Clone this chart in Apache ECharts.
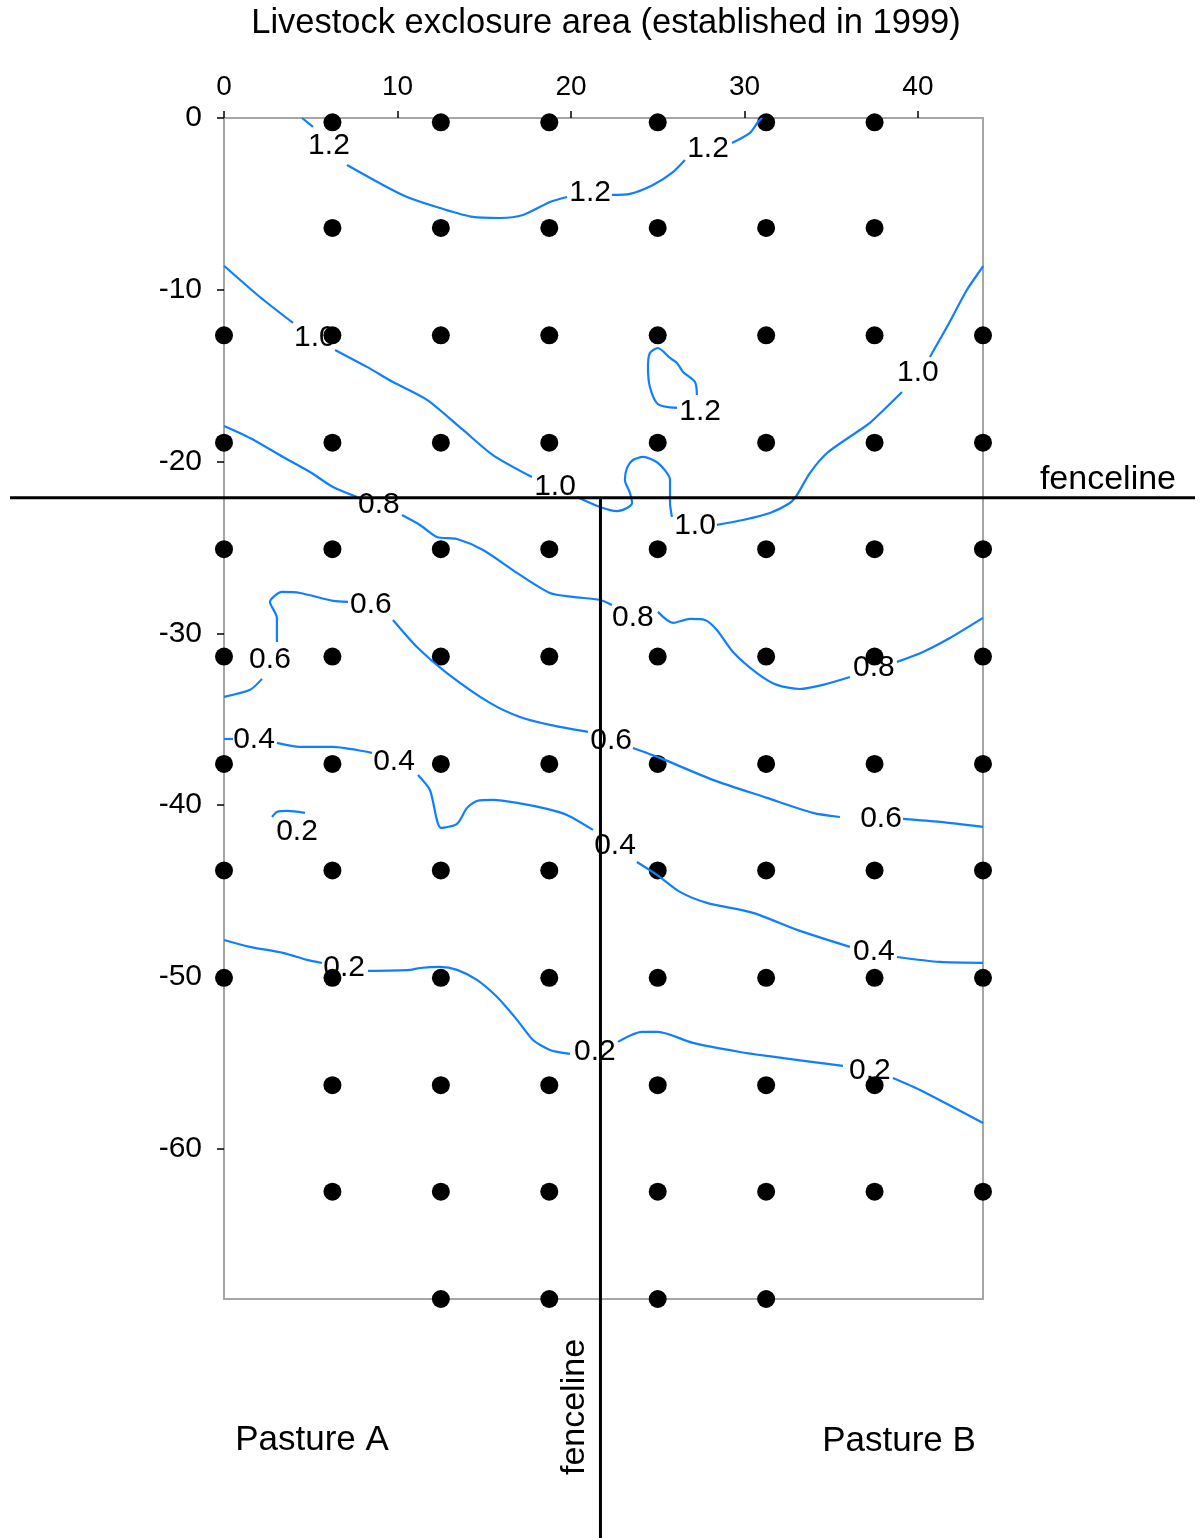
<!DOCTYPE html>
<html><head><meta charset="utf-8">
<script src="https://cdn.jsdelivr.net/npm/echarts@6/dist/echarts.min.js"></script>
<style>html,body{margin:0;padding:0;background:#fff}#c{width:1204px;height:1538px}</style>
</head><body><div id="c"></div>
<script>
const FONT = '"Liberation Sans", Arial, sans-serif';
const BLUE = '#0f7fff';

// axis ranges and tick labels
const xRange = [0, 43.75];
const yRange = [-68.75, 0];
const xTicks = [0, 10, 20, 30, 40];
const yTicks = [0, -10, -20, -30, -40, -50, -60];

// sampling points (rows)
const dotRowY = [-0.25, -6.4, -12.65, -18.9, -25.1, -31.35, -37.6, -43.8, -50.05, -56.3, -62.5, -68.75];
const dotRowX = [
  [6.25, 12.5, 18.75, 25, 31.25, 37.5],
  [6.25, 12.5, 18.75, 25, 31.25, 37.5],
  [0, 6.25, 12.5, 18.75, 25, 31.25, 37.5, 43.75],
  [0, 6.25, 12.5, 18.75, 25, 31.25, 37.5, 43.75],
  [0, 6.25, 12.5, 18.75, 25, 31.25, 37.5, 43.75],
  [0, 6.25, 12.5, 18.75, 25, 31.25, 37.5, 43.75],
  [0, 6.25, 12.5, 18.75, 25, 31.25, 37.5, 43.75],
  [0, 6.25, 12.5, 18.75, 25, 31.25, 37.5, 43.75],
  [0, 6.25, 12.5, 18.75, 25, 31.25, 37.5, 43.75],
  [6.25, 12.5, 18.75, 25, 31.25, 37.5],
  [6.25, 12.5, 18.75, 25, 31.25, 37.5, 43.75],
  [12.5, 18.75, 25, 31.25]
];

// fence positions
const fenceY = -22.1;
const fenceX = 21.7;

// contour segments (broken where labels sit)
const contour12Top = [
  [[4.50,0],[5.13,-0.52]],
  [[7.09,-2.74],[9.16,-3.90],[10.55,-4.60],[12.45,-5.24],[14.35,-5.76],[15.91,-5.82],[17.23,-5.65],[18.79,-4.89],[19.77,-4.60]],
  [[22.36,-4.48],[23.40,-4.42],[24.73,-3.90],[25.82,-3.20],[26.57,-2.44]],
  [[29.28,-1.46],[30.32,-0.87],[30.78,-0.23],[31.01,0]]
];
const contour12Loop = [
  [[27.26,-16.12],[27.15,-15.37],[26.46,-14.78],[26.11,-14.26],[25.71,-13.97],[25.01,-13.39],[24.55,-13.68],[24.44,-14.49],[24.55,-15.66],[25.01,-16.65],[26.11,-16.88]]
];
const contour10 = [
  [[0,-8.6],[2.07,-10.42],[3.98,-11.93]],
  [[6.40,-13.50],[8.24,-14.49],[9.74,-15.37],[11.70,-16.41],[13.78,-18.16],[15.50,-19.62],[17.75,-20.90]],
  [[20.35,-22.06],[21.67,-22.64],[22.65,-22.88],[23.23,-22.70],[23.52,-22.41],[23.40,-21.83],[23.11,-21.07],[23.23,-20.37],[23.57,-19.91],[24.15,-19.73],[25.01,-20.08],[25.71,-21.07],[25.71,-22.41],[25.82,-23.22]],
  [[28.41,-23.69],[29.91,-23.40],[31.47,-22.99],[32.62,-22.41],[33.03,-21.94],[33.78,-20.66],[34.76,-19.50],[36.48,-18.28],[37.23,-17.75],[39.08,-15.95]],
  [[40.69,-13.91],[41.67,-12.17],[42.82,-10.01],[43.69,-8.73],[43.75,-8.61]]
];
const contour08 = [
  [[0,-17.93],[1.50,-18.63],[3.40,-19.73],[4.96,-20.61],[6.28,-21.48],[7.67,-22.06]],
  [[10.26,-23.11],[11.30,-23.69],[12.28,-24.39],[13.43,-24.51],[14.93,-25.15],[16.89,-26.48],[18.79,-27.65],[20.12,-27.88],[21.67,-28.06],[22.36,-28.35]],
  [[25.01,-28.75],[25.88,-29.39],[26.86,-29.16],[27.72,-29.22],[28.41,-29.80],[29.34,-31.08],[30.72,-32.31],[31.87,-33.00],[33.20,-33.24],[34.52,-33.00],[36.08,-32.54]],
  [[38.79,-31.66],[40.29,-31.08],[41.84,-30.27],[43.75,-29.10]]
];
const contour06 = [
  [[0,-33.70],[1.50,-33.29],[2.19,-32.65]],
  [[3.05,-30.50],[3.05,-29.10],[2.65,-28.17],[3.34,-27.59],[4.38,-27.65],[6.28,-28.11],[7.15,-28.17]],
  [[9.74,-29.22],[11.12,-30.79],[12.85,-32.31],[15.33,-34.05],[17.06,-34.87],[18.79,-35.33],[20.98,-35.74]],
  [[23.57,-36.67],[25.13,-37.25],[28.18,-38.53],[31.30,-39.58],[33.95,-40.45],[35.50,-40.69]],
  [[39.14,-40.80],[41.27,-40.98],[43.75,-41.27]]
];
const contour04 = [
  [[0,-36.15],[0.52,-36.15]],
  [[3.05,-36.38],[4.38,-36.61],[6.28,-36.61],[7.67,-36.79],[8.53,-36.96]],
  [[11.18,-38.24],[11.87,-39.12],[12.51,-41.33],[13.43,-41.09],[14.01,-40.16],[14.58,-39.76],[15.50,-39.70],[16.89,-39.87],[18.62,-40.22],[19.77,-40.57],[21.27,-41.44]],
  [[23.80,-43.31],[24.96,-44.06],[26.28,-45.05],[27.84,-45.69],[30.49,-46.27],[33.03,-47.26],[36.08,-48.25]],
  [[38.79,-48.84],[41.27,-49.13],[43.75,-49.18]]
];
const contour02Small = [
  [[2.77,-40.69],[3.05,-40.40],[3.63,-40.34],[4.67,-40.45]]
];
const contour02 = [
  [[0,-47.85],[1.50,-48.25],[3.40,-48.60],[4.78,-49.01],[5.65,-49.19]],
  [[8.30,-49.65],[10.72,-49.59],[11.30,-49.48],[12.45,-49.42],[13.43,-49.59],[14.58,-50.17],[15.73,-51.16],[16.89,-52.50],[17.81,-53.67],[18.79,-54.25],[19.94,-54.48]],
  [[22.71,-53.78],[24.09,-53.20],[25.01,-53.20],[27.03,-53.84],[29.74,-54.37],[31.30,-54.60],[35.68,-55.18]],
  [[38.56,-55.88],[40.12,-56.58],[43.75,-58.50]]
];

// contour labels: [x, y, text]
const contourLabels = [
  [6.05,-1.63,'1.2'],[21.10,-4.37,'1.2'],[27.90,-1.80,'1.2'],[27.44,-17.11,'1.2'],
  [5.24,-12.81,'1.0'],[19.08,-21.48,'1.0'],[27.15,-23.75,'1.0'],[40.00,-14.84,'1.0'],
  [8.93,-22.53,'0.8'],[23.57,-29.10,'0.8'],[37.46,-32.01,'0.8'],
  [2.65,-31.55,'0.6'],[8.47,-28.35,'0.6'],[22.31,-36.26,'0.6'],[37.87,-40.80,'0.6'],
  [1.73,-36.20,'0.4'],[9.80,-37.49,'0.4'],[22.54,-42.37,'0.4'],[37.46,-48.54,'0.4'],
  [4.21,-41.56,'0.2'],[6.92,-49.48,'0.2'],[21.38,-54.37,'0.2'],[37.23,-55.47,'0.2']
];

const chart = echarts.init(document.getElementById('c'), null, {renderer: 'canvas'});

const dots = [];
dotRowY.forEach((y, i) => dotRowX[i].forEach(x => dots.push([x, y])));

const series = [];
series.push({
  type: 'scatter', data: dots, symbol: 'circle', symbolSize: 18,
  itemStyle: {color: '#000', opacity: 1}, z: 2, silent: true
});
[contour12Top, contour12Loop, contour10, contour08, contour06, contour04, contour02Small, contour02].forEach(c => {
  c.forEach(seg => series.push({
    type: 'line', data: seg, symbol: 'none', showSymbol: false, smooth: 0.25,
    lineStyle: {color: BLUE, width: 2.2}, z: 3, silent: true
  }));
});
series.push({
  type: 'scatter', symbolSize: 1, itemStyle: {color: 'rgba(0,0,0,0)'}, z: 6, silent: true,
  data: contourLabels.map(d => ({name: d[2], value: [d[0], d[1]]})),
  label: {show: true, position: 'inside', formatter: '{b}', color: '#000', fontSize: 30, fontFamily: FONT, opacity: 1}
});

const axisCommon = {
  type: 'value',
  axisLine: {show: true, onZero: false, lineStyle: {color: '#a6a6a6', width: 2}},
  splitLine: {show: false},
  axisTick: {show: true, inside: false, length: 7, lineStyle: {color: '#000', width: 1.5}}
};

const textGraphics = [
  {type: 'text', x: 606, y: 23, style: {text: 'Livestock exclosure area (established in 1999)', fontSize: 34.5, fontFamily: FONT, fill: '#000', align: 'center', verticalAlign: 'middle'}},
  {type: 'text', x: 1176, y: 480, style: {text: 'fenceline', fontSize: 34, fontFamily: FONT, fill: '#000', align: 'right', verticalAlign: 'middle'}},
  {type: 'text', x: 575, y: 1407, rotation: Math.PI / 2, style: {text: 'fenceline', fontSize: 34, fontFamily: FONT, fill: '#000', align: 'center', verticalAlign: 'middle'}},
  {type: 'text', x: 312, y: 1440, style: {text: 'Pasture A', fontSize: 35, fontFamily: FONT, fill: '#000', align: 'center', verticalAlign: 'middle'}},
  {type: 'text', x: 899, y: 1441, style: {text: 'Pasture B', fontSize: 35, fontFamily: FONT, fill: '#000', align: 'center', verticalAlign: 'middle'}}
];

chart.setOption({
  animation: false,
  backgroundColor: '#fff',
  grid: {left: 224, top: 118, width: 759, height: 1181, show: true, borderColor: '#a6a6a6', borderWidth: 2, outerBoundsMode: 'none', containLabel: false},
  xAxis: Object.assign({}, axisCommon, {
    position: 'top', min: xRange[0], max: xRange[1],
    axisTick: Object.assign({}, axisCommon.axisTick, {customValues: xTicks}),
    axisLabel: {customValues: xTicks, color: '#000', fontSize: 28, fontFamily: FONT, margin: 17}
  }),
  yAxis: Object.assign({}, axisCommon, {
    position: 'left', min: yRange[0], max: yRange[1],
    axisTick: Object.assign({}, axisCommon.axisTick, {customValues: yTicks}),
    axisLabel: {customValues: yTicks, color: '#000', fontSize: 30, fontFamily: FONT, margin: 22}
  }),
  series: series,
  graphic: textGraphics
});

// fencelines: positioned through the axes' scales, extended to the picture edges
const fp = chart.convertToPixel({gridIndex: 0}, [fenceX, fenceY]);
const fenceGraphics = [
  {type: 'line', z: 4, silent: true, shape: {x1: 10, y1: fp[1], x2: 1195, y2: fp[1]}, style: {stroke: '#000', lineWidth: 3}},
  {type: 'line', z: 4, silent: true, shape: {x1: fp[0], y1: fp[1], x2: fp[0], y2: 1538}, style: {stroke: '#000', lineWidth: 3}}
];
chart.setOption({graphic: textGraphics.concat(fenceGraphics)});
</script>
</body></html>
